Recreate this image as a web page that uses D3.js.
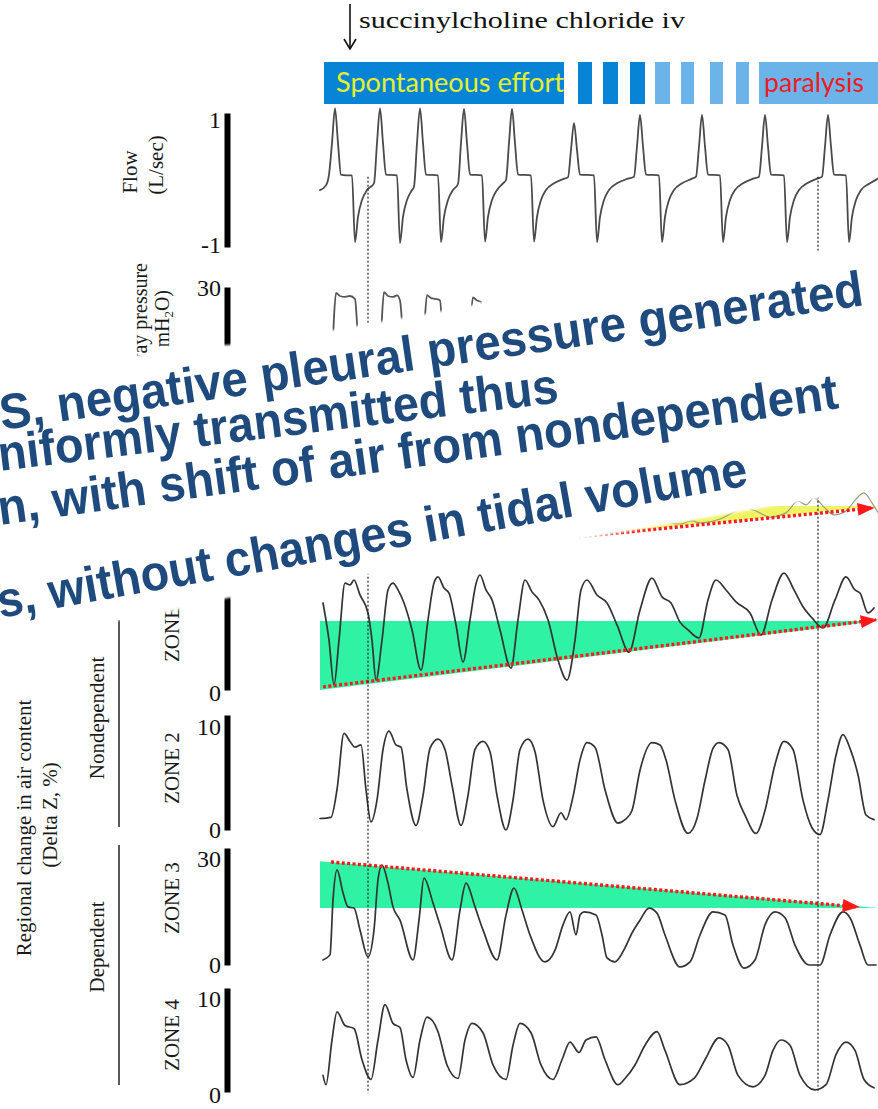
<!DOCTYPE html>
<html>
<head>
<meta charset="utf-8">
<script src="https://cdn.jsdelivr.net/npm/d3@7"></script>
<style>
  html, body { margin: 0; padding: 0; background: #fff; }
  svg { display: block; }
</style>
</head>
<body>
<svg id="fig" width="878" height="1109"></svg>
<script>
// ---------- recorded traces: [time (s), value] ----------
const flowTrace = [
  [0.0,-0.15],[0.6,-0.08],[0.9,0.08],[1.2,0.55],[1.5,1.07],[1.8,0.55],[2.1,0.08],[2.6,0.07],[3.2,0.07],[3.5,-0.93],[3.8,-0.55],[4.2,-0.30],[4.7,-0.15],[5.4,-0.05],
  [5.7,0.55],[6.0,1.07],[6.3,0.55],[6.6,0.08],[7.7,0.07],[8.0,-0.94],[8.3,-0.55],[8.7,-0.30],[9.2,-0.15],[9.4,-0.10],
  [9.7,0.55],[10.0,1.07],[10.3,0.55],[10.6,0.08],[11.8,0.07],[12.1,-0.93],[12.4,-0.55],[12.8,-0.30],[13.3,-0.15],[13.8,-0.06],
  [14.1,0.55],[14.4,1.06],[14.7,0.55],[15.0,0.08],[16.2,0.07],[16.5,-0.92],[16.8,-0.55],[17.2,-0.30],[17.7,-0.15],[18.3,-0.05],[18.6,0.00],
  [18.9,0.55],[19.2,1.06],[19.5,0.55],[19.8,0.08],[21.1,0.07],[21.4,-0.92],[21.7,-0.55],[22.1,-0.30],[22.6,-0.15],[23.4,-0.05],[24.4,0.02],[24.8,0.04],
  [25.1,0.45],[25.4,0.85],[25.7,0.45],[26.0,0.08],[27.4,0.07],[27.7,-0.93],[28.0,-0.55],[28.4,-0.30],[28.9,-0.15],[29.7,-0.05],[30.8,0.02],[31.4,0.05],
  [31.7,0.50],[32.0,0.97],[32.3,0.50],[32.6,0.08],[33.9,0.07],[34.2,-0.93],[34.5,-0.55],[34.9,-0.30],[35.4,-0.15],[36.2,-0.05],[37.2,0.02],[37.6,0.05],
  [37.9,0.50],[38.2,0.97],[38.5,0.50],[38.8,0.08],[40.0,0.07],[40.3,-0.93],[40.6,-0.55],[41.0,-0.30],[41.5,-0.15],[42.3,-0.05],[43.3,0.02],[43.9,0.05],
  [44.2,0.50],[44.5,0.97],[44.8,0.50],[45.1,0.08],[46.4,0.07],[46.7,-0.93],[47.0,-0.55],[47.4,-0.30],[47.9,-0.15],[48.7,-0.05],[49.7,0.02],[50.2,0.05],
  [50.5,0.50],[50.8,0.97],[51.1,0.50],[51.4,0.08],[52.6,0.07],[52.9,-0.93],[53.2,-0.55],[53.6,-0.30],[54.1,-0.15],[55.0,-0.05],[55.8,0.02]
];

const pressureTrace = [
  [0,5],[1.2,5],[1.4,20],[1.6,28.0],[2.0,27.0],[2.5,26.7],[3.0,27.0],[3.5,26.0],[3.7,18],[3.9,5],
  [6.0,5],[6.2,20],[6.4,28.3],[6.8,27.0],[7.3,26.7],[7.7,27.2],[8.0,25.5],[8.2,18],[8.4,5],
  [10.3,5],[10.5,20],[10.7,27.3],[11.1,26.3],[11.6,26.0],[12.0,25.5],[12.2,17],[12.4,5],
  [14.9,5],[15.1,20],[15.3,26.5],[15.7,25.5],[16.1,25.0],[16.3,17],[16.5,5],[18.0,5]
];

const globalTrace = [
  [33.0,13.5],[36.0,12.0],[37.2,12.8],[38.0,12.3],[40.0,13.3],[41.6,15.4],[42.6,16.2],[43.6,15.4],[45.0,13.8],
  [46.6,14.9],[47.8,18.0],[48.6,17.0],[49.4,18.8],[50.4,16.4],[51.4,14.4],[52.6,15.4],[53.6,18.5],[54.4,20.1],[55.2,17.5],[55.8,15.0]
];

const zone1Trace = [
  [0.3,22.7],[0.9,13.0],[1.4,1.3],[1.9,13.0],[2.5,27.9],[3.0,27.4],[3.4,28.7],[4.0,24.8],[4.8,20.1],[5.2,13.0],[5.6,2.6],
  [6.2,13.0],[6.8,26.1],[7.3,27.9],[7.8,26.1],[8.4,22.7],[9.2,15.7],[10.1,5.2],[10.8,18.3],[11.4,27.9],[11.8,29.5],
  [12.4,26.6],[12.9,25.3],[13.6,17.0],[14.3,7.3],[15.0,18.3],[15.6,27.7],[16.0,30.0],[16.6,26.1],[17.2,23.5],[18.0,15.7],
  [19.1,5.7],[19.8,18.3],[20.5,28.7],[21.2,25.6],[21.9,23.5],[22.8,18.3],[23.8,7.8],[24.7,2.6],[25.5,13.0],[26.1,26.1],
  [26.7,28.7],[27.7,24.8],[28.7,22.7],[29.7,17.0],[30.9,9.9],[32.0,20.9],[33.2,29.2],[34.2,24.3],[35.1,22.7],[36.0,17.7],
  [36.8,15.7],[37.9,13.6],[38.8,23.5],[39.6,28.7],[40.6,26.1],[41.6,23.0],[43.0,20.1],[44.1,14.3],[45.2,23.5],[46.4,30.5],
  [47.4,26.1],[48.3,21.7],[49.2,18.8],[50.3,16.2],[51.5,23.5],[52.6,29.5],[53.5,26.1],[54.0,25.3],[54.8,20.1],[55.4,21.4]
];

const zone2Trace = [
  [0.0,1.0],[1.1,1.1],[1.7,3.5],[2.4,8.4],[3.0,7.7],[3.5,7.2],[4.1,7.4],[4.6,3.5],[5.1,0.7],[5.7,2.6],[6.3,7.0],[6.9,8.6],
  [7.6,7.4],[8.1,7.2],[8.7,3.5],[9.6,0.4],[10.3,3.0],[11.0,7.1],[11.8,7.9],[12.5,7.0],[13.2,3.9],[14.1,0.4],[14.8,3.0],
  [15.5,7.0],[16.3,7.7],[17.0,6.8],[17.7,3.0],[18.6,0.0],[19.3,2.6],[20.0,7.0],[20.8,7.9],[21.5,6.8],[22.3,2.6],[23.3,0.3],
  [24.1,1.5],[24.6,0.9],[25.3,2.9],[26.0,6.1],[26.7,7.6],[27.5,7.2],[28.5,3.5],[29.8,0.6],[30.5,0.9],[31.2,1.7],[32.0,5.2],
  [33.2,7.6],[34.0,7.4],[34.6,6.1],[35.5,2.6],[36.8,-0.3],[37.7,1.0],[38.5,4.3],[39.3,7.1],[39.9,7.6],[40.8,7.0],[41.7,3.0],
  [42.5,1.3],[43.6,-0.3],[44.5,1.7],[45.5,5.7],[46.4,7.7],[47.3,7.0],[48.3,2.6],[49.2,0.2],[50.0,-0.4],[50.8,2.6],[51.6,6.5],
  [52.3,8.3],[53.0,7.1],[53.8,4.8],[54.6,1.3],[55.4,0.9]
];

const zone3Trace = [
  [0.3,1.3],[1.0,2.6],[1.3,16.7],[1.7,24.4],[2.3,18.5],[2.8,14.9],[3.4,14.6],[4.0,9.0],[4.8,2.1],[5.4,9.0],[5.8,21.8],
  [6.2,25.6],[6.8,21.0],[7.3,14.9],[8.0,11.5],[9.3,1.3],[9.9,11.5],[10.4,22.3],[11.3,15.9],[12.0,10.3],[13.2,1.3],[14.0,14.1],
  [14.6,21.0],[15.5,14.9],[16.3,9.0],[17.7,1.3],[18.6,12.8],[19.4,19.7],[20.2,14.1],[21.0,7.7],[22.5,0.8],[23.5,3.8],[24.3,10.3],
  [25.0,13.6],[25.6,7.7],[26.0,12.8],[26.4,13.6],[27.6,12.8],[28.2,7.7],[28.7,1.8],[29.5,0.8],[30.5,4.4],[31.2,8.2],[32.0,11.5],
  [32.9,14.6],[33.7,13.3],[34.5,7.7],[36.0,-0.5],[37.0,0.8],[38.0,7.7],[39.3,13.6],[40.5,12.8],[41.3,5.1],[42.4,-0.8],[43.5,1.3],
  [44.5,10.3],[45.5,13.6],[46.5,12.1],[47.5,5.1],[48.9,0.0],[50.0,0.0],[51.0,7.7],[52.3,13.6],[53.0,12.1],[54.0,5.1],[54.8,0.0],[55.6,0.0]
];

const zone4Trace = [
  [0.3,1.6],[0.6,0.7],[1.2,5.0],[1.7,7.7],[2.5,6.4],[3.4,6.1],[4.2,3.1],[5.1,1.2],[5.8,5.0],[6.5,8.4],[7.3,6.6],[8.0,6.2],
  [8.6,3.1],[9.3,1.4],[10.0,5.0],[10.7,7.2],[11.8,5.8],[12.7,2.6],[13.8,1.3],[14.5,5.0],[15.2,6.6],[16.3,5.7],[17.3,2.6],
  [18.6,1.2],[19.3,4.5],[20.0,6.6],[21.1,5.7],[22.1,2.6],[23.3,1.2],[24.2,3.1],[25.0,4.8],[25.9,3.8],[26.6,5.0],[27.6,5.3],
  [28.5,3.1],[29.8,0.7],[30.5,1.3],[31.5,2.6],[32.5,4.5],[33.7,5.8],[34.5,4.0],[36.0,0.7],[37.4,1.3],[38.5,3.1],[39.9,5.2],
  [40.8,4.5],[41.8,1.6],[43.3,0.5],[44.5,1.6],[45.3,4.0],[46.1,5.0],[47.0,4.5],[48.0,1.6],[49.5,0.2],[50.6,0.7],[51.6,3.6],
  [52.6,4.8],[53.5,4.0],[54.4,1.2],[55.4,0.4]
];

// trend lines (start, arrow tip) and the flat reference level of each shaded wedge
const globalTrend = [[0.0, 2.1], [55.3, 16.2]];
const globalRefLevel = 16.7;
const zone1Trend = [[0.3, 0.8], [55.6, 18.3]];
const zone1RefLevel = 18.0;
const zone3Trend = [[1.1, 26.4], [53.8, 14.9]];
const zone3RefLevel = 14.6;

// ventilation phases across the top
const phaseStart = [0.4, 25.8, 28.3, 31.0, 33.5, 36.1, 39.0, 41.6, 43.9];
const phaseEnd   = [24.4, 27.2, 29.8, 32.5, 35.0, 37.4, 40.3, 42.9, 55.8];
const phaseTone  = ['strong','strong','strong','strong','weak','weak','weak','weak','weak'];
const phaseLabel = ['Spontaneous effort','','','','','','','','paralysis'];

const injectionTime = 3.0;
const markerTimes = [4.8, 49.8];

const zoneNames = ['ZONE 1','ZONE 2','ZONE 3','ZONE 4'];
const zoneTicks = [[0,30],[0,10],[0,30],[0,10]];

const noteLines = [
  'S, negative pleural pressure generated',
  'niformly transmitted thus',
  'n, with shift of air from nondependent',
  's, without changes in tidal volume'
];

// ---------- scales ----------
const svg = d3.select('#fig');
const x = d3.scaleLinear().domain([0, 55.8]).range([320, 878]);

const yFlow = d3.scaleLinear().domain([-1, 1]).range([247, 113]);
const yPress = d3.scaleLinear().domain([0, 30]).range([377, 287]);
const yGlobal = d3.scaleLinear().domain([0, 30]).range([570, 455]);
const yZone = [
  d3.scaleLinear().domain(zoneTicks[0]).range([690, 575]),
  d3.scaleLinear().domain(zoneTicks[1]).range([830, 715]),
  d3.scaleLinear().domain(zoneTicks[2]).range([965, 848]),
  d3.scaleLinear().domain(zoneTicks[3]).range([1092, 988])
];
const zoneData = [zone1Trace, zone2Trace, zone3Trace, zone4Trace];

const SERIF = "'Liberation Serif', 'Times New Roman', serif";
const SANS = "'Liberation Sans', Arial, sans-serif";

const defs = svg.append('defs');
const head = defs.append('marker')
  .attr('id', 'redHead').attr('viewBox', '0 0 10 10')
  .attr('refX', 9).attr('refY', 5)
  .attr('markerWidth', 17).attr('markerHeight', 13)
  .attr('markerUnits', 'userSpaceOnUse')
  .attr('preserveAspectRatio', 'none')
  .attr('orient', 'auto');
head.append('path').attr('d', 'M0,0L10,5L0,10Z').attr('fill', '#ff1a1a');

defs.append('filter').attr('id', 'soft').attr('x', '-5%').attr('y', '-5%').attr('width', '110%').attr('height', '110%')
  .append('feGaussianBlur').attr('stdDeviation', 1.2);

// ---------- phase bar ----------
const phases = phaseStart.map((s, i) => ({ s, e: phaseEnd[i], tone: phaseTone[i], label: phaseLabel[i] }));
const phaseG = svg.append('g');
phaseG.selectAll('rect').data(phases).join('rect')
  .attr('x', d => x(d.s)).attr('width', d => x(d.e) - x(d.s))
  .attr('y', 62).attr('height', 42)
  .attr('fill', d => d.tone === 'strong' ? '#0784d6' : '#6cb3ea');
phaseG.append('text')
  .attr('x', x(phases[0].s) + 12).attr('y', 92)
  .attr('font-family', "Lato, 'Open Sans', sans-serif").attr('font-size', 26)
  .attr('fill', '#e4f02c')
  .attr('textLength', 228).attr('lengthAdjust', 'spacingAndGlyphs')
  .text(phases[0].label);
phaseG.append('text')
  .attr('x', x(phases[8].s) + 5).attr('y', 92)
  .attr('font-family', "Lato, 'Open Sans', sans-serif").attr('font-size', 26)
  .attr('fill', '#ee1c24')
  .attr('textLength', 100).attr('lengthAdjust', 'spacingAndGlyphs')
  .text(phases[8].label);

// injection arrow and note
const ax = x(injectionTime);
svg.append('line').attr('x1', ax).attr('x2', ax).attr('y1', 4).attr('y2', 49)
  .attr('stroke', '#111').attr('stroke-width', 1.6);
svg.append('polyline').attr('points', `${ax - 6},39 ${ax},49 ${ax + 6},39`)
  .attr('fill', 'none').attr('stroke', '#111').attr('stroke-width', 1.6);
svg.append('text').attr('x', ax + 9).attr('y', 28)
  .attr('font-family', SERIF).attr('font-size', 24).attr('fill', '#111')
  .attr('textLength', 326).attr('lengthAdjust', 'spacingAndGlyphs')
  .text('succinylcholine chloride iv');

// ---------- shaded wedges ----------
function wedge(points, y, fill) {
  svg.append('path')
    .attr('d', d3.line().x(d => x(d[0])).y(d => y(d[1]))(points) + 'Z')
    .attr('fill', fill);
}
const tMin = x.domain()[0], tMax = x.domain()[1];
wedge([[tMin, globalRefLevel], [tMax, globalRefLevel], [tMin, globalTrend[0][1]]], yGlobal, '#eef463');
wedge([[tMin, zone1RefLevel], [tMax, zone1RefLevel], [tMin, 0]], yZone[0], '#2ff2a4');
wedge([[tMin, zone3Trend[0][1] + 0.2], [tMin, zone3RefLevel], [tMax, zone3RefLevel]], yZone[2], '#2ff2a4');

// ---------- traces ----------
function trace(data, y, color, width) {
  svg.append('path').datum(data)
    .attr('d', d3.line().x(d => x(d[0])).y(d => y(d[1])).curve(d3.curveMonotoneX))
    .attr('fill', 'none').attr('stroke', color).attr('stroke-width', width)
    .attr('stroke-linejoin', 'round').attr('stroke-linecap', 'round');
}
trace(flowTrace, yFlow, '#4a4a4a', 1.8);
trace(pressureTrace, yPress, '#555', 1.8);
trace(globalTrace, yGlobal, '#9a9a80', 1.2);
zoneData.forEach((d, i) => trace(d, yZone[i], '#333', 1.7));

// ---------- trend arrows ----------
function trend(points, y) {
  svg.append('path')
    .attr('d', d3.line().x(d => x(d[0])).y(d => y(d[1]))(points))
    .attr('fill', 'none').attr('stroke', '#ff1a1a').attr('stroke-width', 3.4)
    .attr('stroke-dasharray', '3 2.4')
    .attr('marker-end', 'url(#redHead)');
}
trend(globalTrend, yGlobal);
trend(zone1Trend, yZone[0]);
trend(zone3Trend, yZone[2]);

// ---------- event markers ----------
svg.selectAll('line.marker').data(markerTimes).join('line')
  .attr('class', 'marker')
  .attr('x1', d => x(d)).attr('x2', d => x(d))
  .attr('y1', yFlow(0.05)).attr('y2', 1093)
  .attr('stroke', '#222').attr('stroke-width', 1.2)
  .attr('stroke-dasharray', '2 2');

// ---------- scale bars ----------
function scaleBar(y, ticks, topDy, botDy) {
  const g = svg.append('g').attr('transform', 'translate(227,0)')
    .call(d3.axisLeft(y).tickValues(ticks).tickSize(0).tickSizeOuter(0).tickPadding(6).tickFormat(d => String(d)));
  g.attr('font-family', SERIF).attr('font-size', 24);
  g.select('.domain').attr('stroke', '#000').attr('stroke-width', 6);
  g.selectAll('.tick text').attr('fill', '#111')
    .attr('dy', d => d === ticks[1] ? topDy : botDy);
}
scaleBar(yFlow, [-1, 1], '0.62em', '0.22em');
scaleBar(yPress, [0, 30], '0.35em', '0.35em');
scaleBar(yZone[0], zoneTicks[0], '0.75em', '0.42em');
scaleBar(yZone[1], zoneTicks[1], '0.8em', '0.33em');
scaleBar(yZone[2], zoneTicks[2], '0.75em', '0.3em');
scaleBar(yZone[3], zoneTicks[3], '0.75em', '0.42em');

// ---------- rotated labels ----------
function vtext(str, bx, by, anchor, size) {
  return svg.append('text')
    .attr('transform', `translate(${bx},${by}) rotate(-90)`)
    .attr('text-anchor', anchor)
    .attr('font-family', SERIF).attr('font-size', size || 21).attr('fill', '#1a1a1a')
    .text(str);
}
vtext('Flow', 137, 172, 'middle');
vtext('(L/sec)', 163, 165, 'middle');
vtext('Airway pressure', 147, 263, 'end', 20);
const pLab = vtext('', 169, 290, 'end', 20);
pLab.append('tspan').text('(cmH');
pLab.append('tspan').attr('font-size', 13).attr('dy', 4).text('2');
pLab.append('tspan').attr('dy', -4).text('O)');

vtext('Regional change in air content', 31, 828, 'middle');
vtext('(Delta Z, %)', 57, 815, 'middle');
vtext('Nondependent', 104, 718, 'middle');
vtext('Dependent', 104, 947, 'middle');

vtext(zoneNames[0], 179, 662, 'start');
vtext(zoneNames[1], 179, 768, 'middle');
vtext(zoneNames[2], 179, 898, 'middle');
vtext(zoneNames[3], 179, 1035, 'middle');

svg.append('line').attr('x1', 119).attr('x2', 119).attr('y1', 620).attr('y2', 827)
  .attr('stroke', '#222').attr('stroke-width', 1.5);
svg.append('line').attr('x1', 119).attr('x2', 119).attr('y1', 845).attr('y2', 1085)
  .attr('stroke', '#222').attr('stroke-width', 1.5);

// ---------- callout box ----------
const boxPts = [
  [0,360],[130,356],[150,354],[160,346],[228,345],[300,336],[345,328],[420,315],[470,306],[482,302],[530,291],[700,262],[878,246],
  [878,488],[762,508],[560,543],[228,598],[195,605],[165,613],[120,620],[0,640]
];
svg.append('polygon')
  .attr('points', boxPts.map(p => p.join(',')).join(' '))
  .attr('fill', '#fff').attr('filter', 'url(#soft)');

const noteGeom = [
  { x: 2, y: 430, a: -8.24, len: 872 },
  { x: 0, y: 471, a: -7.0, len: 564 },
  { x: 0, y: 525, a: -7.93, len: 848 },
  { x: 0, y: 618, a: -10.05, len: 761 }
];
svg.selectAll('text.note').data(noteLines).join('text')
  .attr('class', 'note')
  .attr('transform', (d, i) => `translate(${noteGeom[i].x},${noteGeom[i].y}) rotate(${noteGeom[i].a})`)
  .attr('font-family', SANS).attr('font-weight', 'bold').attr('font-size', 50)
  .attr('fill', '#1f4a7e')
  .attr('textLength', (d, i) => noteGeom[i].len).attr('lengthAdjust', 'spacingAndGlyphs')
  .text(d => d);
</script>
</body>
</html>
